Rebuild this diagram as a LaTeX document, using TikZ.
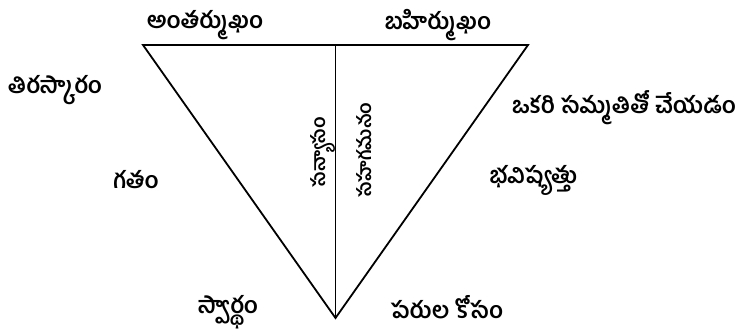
\documentclass[tikz,border=0pt]{standalone}
\usepackage{fontspec}
\newfontfamily\telugu[Script=Telugu]{Hind Guntur}
\begin{document}
\begin{tikzpicture}[x=1pt,y=-1pt,line width=1.8pt]
  \tikzset{lbl/.style={font=\telugu\bfseries\fontsize{23}{26}\selectfont, inner sep=0pt},
           side/.style={lbl, font=\telugu\bfseries\fontsize{19}{22}\selectfont, rotate=90}}
  \useasboundingbox (0,0) rectangle (749,336);

  % triangle
  \coordinate (tl) at (143,45);
  \coordinate (tr) at (528,45);
  \coordinate (tm) at (335.5,45);
  \coordinate (apex) at (335.5,318);
  \draw[line join=miter] (tl) -- (tr) -- (apex) -- cycle;
  \draw (tm) -- (apex);

  % left side
  \node[lbl] (intro) at (205,25) {అంతర్ముఖం};
  \node[lbl] (reject) at (55,90) {తిరస్కారం};
  \node[lbl] (past) at (136,180) {గతం};
  \node[lbl] (selfish) at (228,312) {స్వార్థం};
  \node[side] (lefthalf) at (323,152) {సన్యాసం};

  % right side
  \node[lbl] (extro) at (438,25) {బహిర్ముఖం};
  \node[lbl] (consent) at (624,108) {ఒకరి సమ్మతితో చేయడం};
  \node[lbl] (future) at (533,180) {భవిష్యత్తు};
  \node[lbl] (others) at (447,307) {పరుల కోసం};
  \node[side] (righthalf) at (364,150) {సహగమనం};
\end{tikzpicture}
\end{document}
